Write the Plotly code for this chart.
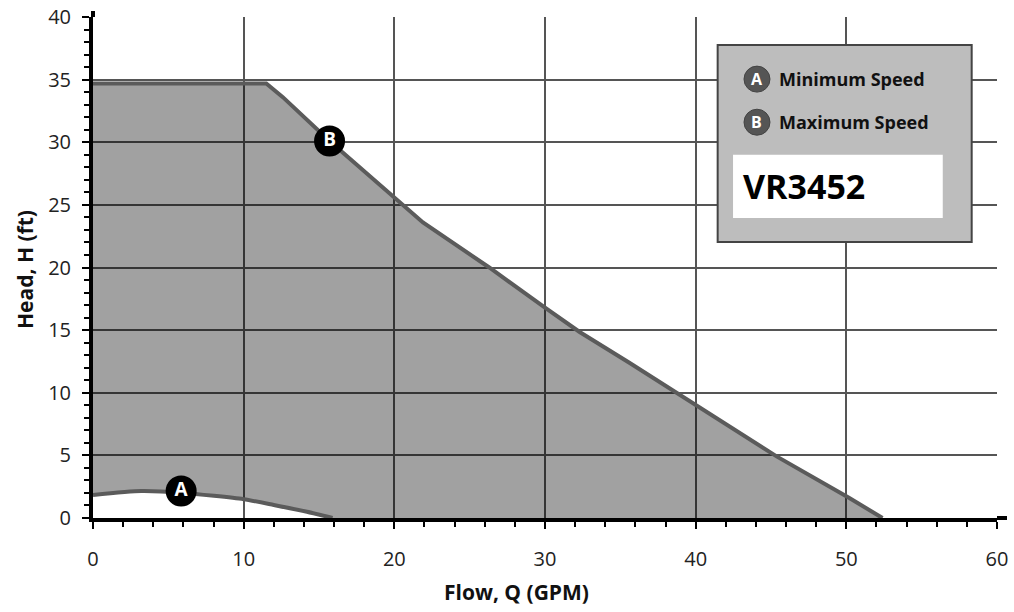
import plotly.graph_objects as go

# Curve B (maximum speed)
flow_b = [0, 11.5, 12.6, 15.7, 21.9, 26.3, 30.0, 32.3, 35.6, 39.0, 45.4, 50.2, 52.4]
head_b = [34.7, 34.7, 33.6, 30.1, 23.6, 20.0, 16.8, 14.85, 12.4, 9.8, 4.9, 1.6, 0]
# Curve A (minimum speed)
flow_a = [0, 3.2, 6.0, 10.0, 12.0, 14.2, 15.9]
head_a = [1.84, 2.15, 2.0, 1.5, 1.04, 0.5, 0]
# curve labels
label_text = ["A", "B"]
label_flow = [5.85, 15.7]
label_head = [2.15, 30.1]

x_ticks = [0, 10, 20, 30, 40, 50, 60]
y_ticks = [0, 5, 10, 15, 20, 25, 30, 35, 40]

legend_names = ["Minimum Speed", "Maximum Speed"]
model_name = "VR3452"

line_col = "#5b5b5b"
font = "Open Sans"
PW, PH = 904, 501  # plot area size in px

fig = go.Figure()
fig.add_trace(go.Scatter(x=flow_a, y=head_a, mode="lines",
                         line=dict(color=line_col, width=4, shape="spline", smoothing=0.6),
                         hoverinfo="skip", showlegend=False))
fig.add_trace(go.Scatter(x=flow_b, y=head_b, mode="lines", line=dict(color=line_col, width=4),
                         fill="tonexty", fillcolor="rgba(0,0,0,0.37)", hoverinfo="skip", showlegend=False))
fig.add_trace(go.Scatter(x=label_flow, y=label_head, mode="markers+text", text=label_text,
                         textposition="middle center",
                         textfont=dict(family=font, size=19, color="white", weight="bold"),
                         marker=dict(size=31, color="black"), hoverinfo="skip", showlegend=False))

axis_common = dict(showline=True, linecolor="black", linewidth=4,
                   showgrid=True, gridcolor="#555555", gridwidth=2,
                   ticks="outside", ticklen=7, tickwidth=2, tickcolor="black",
                   zeroline=False, automargin=False,
                   tickfont=dict(family=font, size=20, color="#222222"))

fig.update_xaxes(range=[0, 60], tickvals=x_ticks,
                 minor=dict(dtick=2, ticks="outside", ticklen=5, tickwidth=2, tickcolor="black", showgrid=False),
                 ticklabelstandoff=13, **axis_common)
fig.update_yaxes(range=[0, 40], tickvals=y_ticks,
                 minor=dict(dtick=1, ticks="outside", ticklen=5, tickwidth=2, tickcolor="black", showgrid=False),
                 ticklabelstandoff=7, **axis_common)

shapes = [
    # axis line extensions
    dict(type="line", xref="paper", yref="paper", x0=1.0, x1=1.0 + 10 / PW, y0=0, y1=0,
         line=dict(color="black", width=4), layer="above"),
    dict(type="line", xref="paper", yref="paper", x0=0, x1=0, y0=1.0, y1=1.0 + 6 / PH,
         line=dict(color="black", width=4), layer="above"),
    # legend box
    dict(type="rect", xref="paper", yref="paper", x0=0.691, x1=0.972, y0=0.551, y1=0.944,
         fillcolor="#bdbdbd", line=dict(color="#444444", width=2), layer="above"),
    dict(type="rect", xref="paper", yref="paper", x0=0.708, x1=0.940, y0=0.599, y1=0.725,
         fillcolor="white", line=dict(width=0), layer="above"),
]
annotations = [
    dict(xref="paper", yref="paper", x=0.4685, y=-0.147, xanchor="center", yanchor="middle",
         text="<b>Flow, Q (GPM)</b>", showarrow=False, font=dict(family=font, size=21, color="#111")),
    dict(xref="paper", yref="paper", x=-68 / PW, y=0.495, xanchor="center", yanchor="middle",
         textangle=-90, text="<b>Head, H (ft)</b>",
         showarrow=False, font=dict(family=font, size=21, color="#111")),
]
cx = 0.7345
for letter, name, yy in zip(label_text, legend_names, [0.876, 0.790]):
    shapes.append(dict(type="circle", xref="paper", yref="paper",
                       x0=cx - 13 / PW, x1=cx + 13 / PW, y0=yy - 13 / PH, y1=yy + 13 / PH,
                       fillcolor="#555555", line=dict(color="#444444", width=1), layer="above"))
    annotations.append(dict(xref="paper", yref="paper", x=cx, y=yy, xanchor="center", yanchor="middle",
                            text=f"<b>{letter}</b>", showarrow=False,
                            font=dict(family=font, size=16, color="white")))
    annotations.append(dict(xref="paper", yref="paper", x=0.757, y=yy, xanchor="left", yanchor="middle",
                            text=f"<b>{name}</b>", showarrow=False,
                            font=dict(family=font, size=18, color="#111")))
annotations.append(dict(xref="paper", yref="paper", x=0.717, y=0.662, xanchor="left", yanchor="middle",
                        text=f"<b>{model_name}</b>", showarrow=False,
                        font=dict(family=font, size=34, color="black")))

fig.update_layout(width=1014, height=612, margin=dict(l=93, r=17, t=17, b=94),
                  plot_bgcolor="white", paper_bgcolor="white",
                  shapes=shapes, annotations=annotations)

fig.write_html("out.html", config={"displayModeBar": False},
               post_script="document.body.style.margin='0';")
